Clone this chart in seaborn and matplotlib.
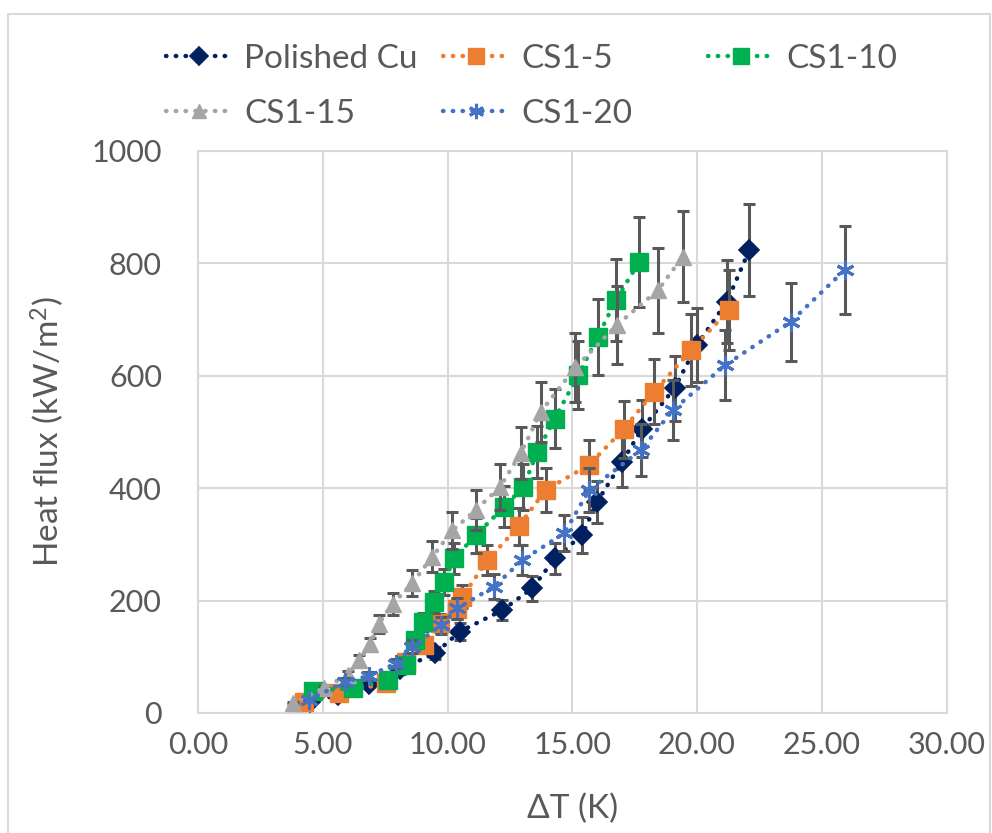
import matplotlib
matplotlib.use("Agg")
import matplotlib.pyplot as plt
import seaborn as sns
import numpy as np
import pandas as pd
from matplotlib.lines import Line2D
from matplotlib.patches import Rectangle

# ---------------- data ----------------
cu_x = [4.5, 5.6, 6.85, 8.1, 9.5, 10.5, 12.2, 13.4, 14.3, 15.4, 16.0, 17.0, 17.8, 19.1, 20.0, 21.2, 22.1]
cu_y = [20, 32, 52, 78, 106, 145, 183, 222, 275, 317, 376, 447, 506, 578, 655, 732, 824]

cs5_x = [4.24, 5.64, 7.53, 8.35, 9.06, 9.7, 10.4, 10.6, 11.6, 12.85, 13.94, 15.66, 17.06, 18.29, 19.77, 21.28]
cs5_y = [20, 35, 53, 90, 121, 160, 185, 207, 272, 332, 397, 441, 505, 572, 646, 717]

cs10_x = [4.6, 6.2, 7.6, 8.35, 8.7, 9.0, 9.45, 9.86, 10.26, 11.13, 12.27, 13.04, 13.6, 14.3, 15.25, 16.02, 16.75, 17.69]
cs10_y = [40, 44, 58, 85, 130, 162, 198, 233, 275, 316, 367, 402, 465, 524, 602, 669, 735, 803]

cs15_x = [3.8, 5.04, 6.0, 6.45, 6.9, 7.25, 7.8, 8.59, 9.39, 10.2, 11.13, 12.1, 12.94, 13.74, 15.13, 16.78, 18.43, 19.43]
cs15_y = [18, 44, 68, 94, 122, 159, 194, 231, 278, 325, 361, 402, 462, 536, 615, 690, 752, 812]

cs20_x = [4.44, 5.91, 6.85, 7.92, 8.59, 9.73, 10.39, 11.87, 13.0, 14.68, 15.68, 17.76, 19.03, 21.13, 23.75, 25.92]
cs20_y = [23, 56, 66, 88, 118, 156, 186, 225, 272, 320, 397, 468, 539, 619, 696, 788]

series_names = ["Polished Cu", "CS1-5", "CS1-10", "CS1-15", "CS1-20"]
x_ticks = [0, 5, 10, 15, 20, 25, 30]
x_tick_labels = ["0.00", "5.00", "10.00", "15.00", "20.00", "25.00", "30.00"]
y_ticks = [0, 200, 400, 600, 800, 1000]
err_frac = 0.10

# ---------------- style ----------------
sns.set_theme(style="white")
plt.rcParams["font.family"] = ["Lato", "DejaVu Sans"]
plt.rcParams["mathtext.fontset"] = "custom"
plt.rcParams["mathtext.rm"] = "Lato"
plt.rcParams["mathtext.it"] = "Lato:italic"

TXT = "#595959"
GRID = "#d9d9d9"
colors = ["#002060", "#ED7D31", "#00B050", "#A5A5A5", "#4472C4"]
markers = ["D", "s", "s", "^", (6, 2, 0)]
msizes = [10.5, 13, 13, 12, 13]
mews = [1.2, 1, 1, 1, 2.2]
leg_msizes = [9, 11, 11, 10, 11]

fig = plt.figure(figsize=(9.92, 8.33), dpi=100)
W, H = 992, 833
L, R, T, B = 198, 946.5, 151, 713
ax = fig.add_axes([L / W, 1 - B / H, (R - L) / W, (B - T) / H])

data = [(cu_x, cu_y), (cs5_x, cs5_y), (cs10_x, cs10_y), (cs15_x, cs15_y), (cs20_x, cs20_y)]

handles = []
for i, ((xs, ys), name) in enumerate(zip(data, series_names)):
    xs = np.array(xs, float)
    ys = np.array(ys, float)
    ax.errorbar(xs, ys, yerr=err_frac * ys, fmt="none", ecolor=TXT, elinewidth=2.2,
                capsize=4.5, capthick=2.2, zorder=2 + i * 2)
    df = pd.DataFrame({"x": xs, "y": ys})
    sns.lineplot(data=df, x="x", y="y", ax=ax, sort=False, estimator=None,
                 color=colors[i], linewidth=3.2, linestyle=(0, (0.1, 2.1)),
                 dash_capstyle="round", marker=None, zorder=3 + i * 2, legend=False)
    ax.plot(xs, ys, linestyle="none", marker=markers[i], markersize=msizes[i],
            markerfacecolor=colors[i], markeredgecolor=colors[i], markeredgewidth=mews[i],
            zorder=3.5 + i * 2)
    h = Line2D([0], [0], color=colors[i], linewidth=3.2, linestyle=(0, (0.1, 2.1)),
               dash_capstyle="round", marker=markers[i], markersize=leg_msizes[i],
               markerfacecolor=colors[i], markeredgecolor=colors[i], markeredgewidth=mews[i])
    handles.append(h)

ax.set_xlim(0, 30)
ax.set_ylim(0, 1000)
ax.set_xticks(x_ticks)
ax.set_xticklabels(x_tick_labels)
ax.set_yticks(y_ticks)
ax.grid(True, color=GRID, linewidth=1.5)
ax.set_axisbelow(True)
for s in ax.spines.values():
    s.set_color(GRID)
    s.set_linewidth(1.5)
ax.tick_params(axis="both", length=0, labelsize=22, labelcolor=TXT)
ax.tick_params(axis="x", pad=13)
ax.tick_params(axis="y", pad=26)

ax.set_xlabel("\u0394T (K)", fontsize=24, color=TXT, labelpad=25)
ax.set_ylabel("Heat flux (kW/m$^2$)", fontsize=24, color=TXT, labelpad=18)

# legend: three single-column legends placed to mimic Excel layout
cols = [([0, 3], 166), ([1, 4], 443), ([2], 708)]
for idx, xpx in cols:
    leg = fig.legend([handles[k] for k in idx], [series_names[k] for k in idx],
                     loc="upper left", bbox_to_anchor=(xpx / W, 1 - 44 / H),
                     frameon=False, fontsize=24, handlelength=2.0, handletextpad=0.35,
                     labelspacing=0.75, borderaxespad=0, borderpad=0)
    for t in leg.get_texts():
        t.set_color(TXT)

# outer chart border
fig.add_artist(Rectangle((8 / W, -0.01), (990 - 8) / W, (H - 14) / H + 0.01,
                         transform=fig.transFigure, fill=False, edgecolor=GRID, linewidth=1.5))

fig.savefig("out.png", dpi=100)
